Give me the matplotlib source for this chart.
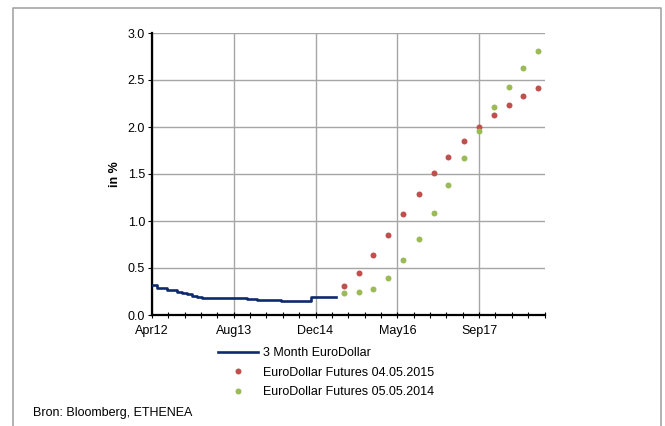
import numpy as np
import pandas as pd
import matplotlib
matplotlib.use("Agg")
import matplotlib.pyplot as plt
import matplotlib.dates as mdates
from matplotlib.lines import Line2D

plt.rcParams['font.family'] = ['Liberation Sans', 'DejaVu Sans']

# 3 month EuroDollar rate, month-start fixings (%)
libor_dates = pd.date_range("2012-04-01", "2015-04-01", freq="MS").append(
    pd.DatetimeIndex(["2015-05-04"]))
libor_vals = [0.315, 0.29, 0.285, 0.27, 0.265, 0.245, 0.23, 0.225, 0.205,
              0.19, 0.186, 0.184, 0.18, 0.18, 0.18, 0.18, 0.18, 0.18, 0.18,
              0.175, 0.17, 0.163, 0.163, 0.163, 0.163, 0.163, 0.15, 0.15,
              0.15, 0.15, 0.15, 0.15, 0.188, 0.188, 0.188, 0.188, 0.188,
              0.188]

# quarterly IMM contract dates
contract_dates = pd.to_datetime([
    "2015-06-17", "2015-09-16", "2015-12-16", "2016-03-16", "2016-06-15",
    "2016-09-21", "2016-12-21", "2017-03-15", "2017-06-21", "2017-09-20",
    "2017-12-20", "2018-03-21", "2018-06-20", "2018-09-19"])
fut_2015 = [0.31, 0.45, 0.64, 0.85, 1.07, 1.29, 1.51, 1.68, 1.85, 2.00,
            2.13, 2.23, 2.33, 2.42]
fut_2014 = [0.23, 0.24, 0.28, 0.39, 0.58, 0.81, 1.09, 1.38, 1.67, 1.96,
            2.21, 2.43, 2.63, 2.81]

tick_labels = ["Apr12", "Aug13", "Dec14", "May16", "Sep17"]

fig = plt.figure(figsize=(6.65, 4.26), dpi=100)
ax = fig.add_axes([152 / 665, 1 - 315 / 426, 393 / 665, 282 / 426])

ax.plot(libor_dates, libor_vals, color='#0d2a6e', lw=1.9,
        drawstyle='steps-post', label='3 Month EuroDollar', zorder=3)
ax.plot(contract_dates, fut_2015, 'o', color='#c0504d', ms=4.3, mew=0,
        label='EuroDollar Futures 04.05.2015', zorder=3)
ax.plot(contract_dates, fut_2014, 'o', color='#9bbb59', ms=4.3, mew=0,
        label='EuroDollar Futures 05.05.2014', zorder=3)

# date axis in 500 day major steps, 100 day minor steps
start = mdates.date2num(pd.Timestamp("2012-04-01"))
ax.set_xlim(start, start + 2403)
ax.set_xticks([start + 500 * i for i in range(5)])
ax.set_xticklabels(tick_labels)
ax.set_xticks([start + 100 * i for i in range(25)], minor=True)
ax.set_ylim(0, 3.0)
ax.set_yticks(np.arange(0, 3.01, 0.5))
ax.yaxis.set_major_formatter(matplotlib.ticker.FormatStrFormatter('%.1f'))

ax.grid(True, which='major', color='#a6a6a6', lw=1.0)
ax.set_axisbelow(True)
for side in ['top', 'right']:
    ax.spines[side].set_visible(False)
for side in ['left', 'bottom']:
    ax.spines[side].set_linewidth(1.6)
    ax.spines[side].set_color('black')

ax.tick_params(axis='x', which='both', direction='inout', labelsize=9,
               pad=5)
ax.tick_params(axis='x', which='major', length=5, width=0.8)
ax.tick_params(axis='x', which='minor', length=4, width=0.8)
ax.tick_params(axis='y', direction='out', length=3, width=0.8,
               labelsize=9, pad=2)
ax.set_ylabel('in %', fontsize=9, fontweight='bold', labelpad=5)

fig.legend(loc='upper left', bbox_to_anchor=(207 / 665, 1 - 336 / 426),
           frameon=False, fontsize=9, handlelength=3.2, handletextpad=0.4,
           labelspacing=0.6, borderpad=0.4)

fig.text(33 / 665, 1 - 413 / 426, 'Bron: Bloomberg, ETHENEA', fontsize=9,
         va='center', ha='left')

# open-bottomed grey frame around the figure
frame_x = [12.5 / 665, 12.5 / 665, 661 / 665, 661 / 665]
frame_y = [0, 1 - 7.5 / 426, 1 - 7.5 / 426, 0]
fig.add_artist(Line2D(frame_x, frame_y, transform=fig.transFigure,
                      color='#a6a6a6', lw=1.2))

fig.savefig('out.png', dpi=100)
